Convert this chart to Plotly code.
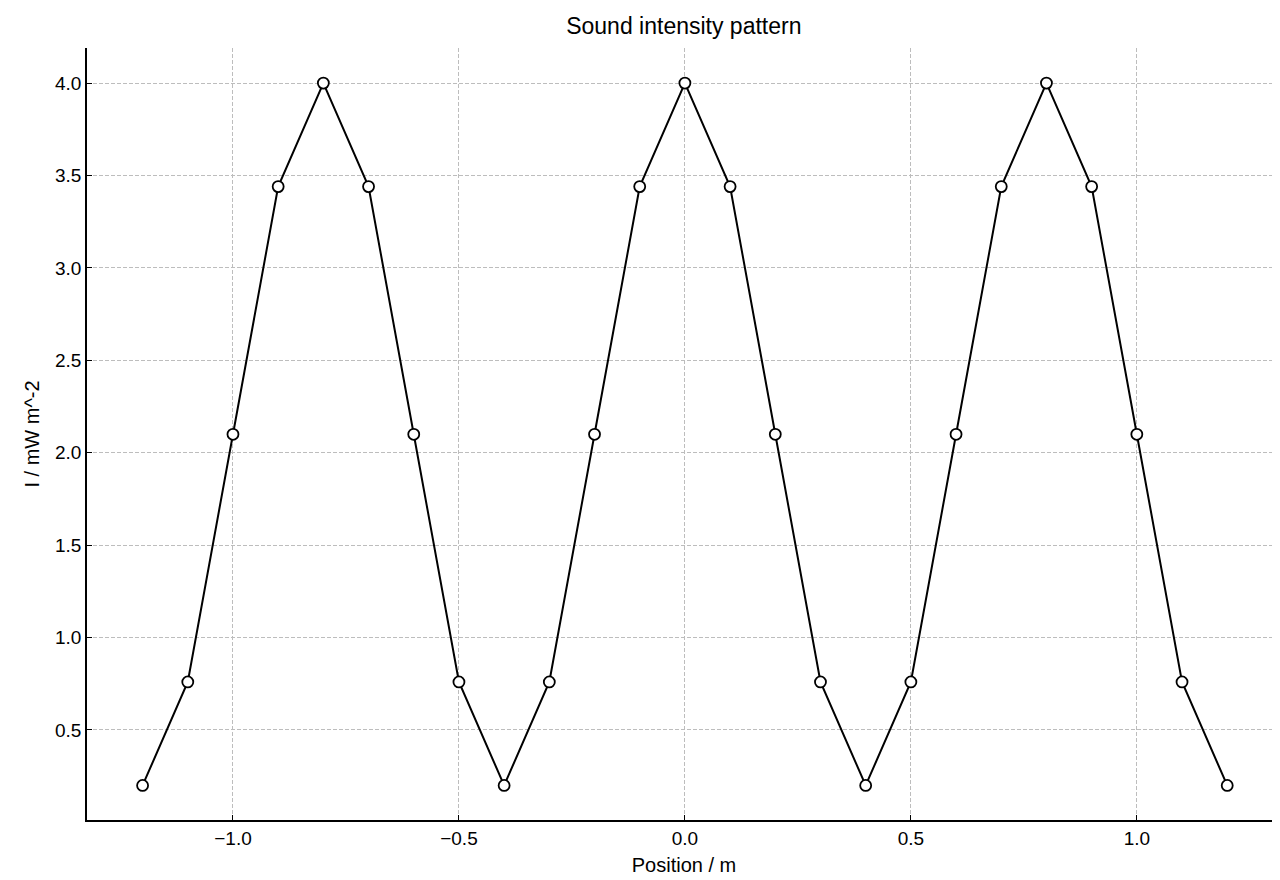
import plotly.graph_objects as go

x = [round(-1.2 + 0.1 * i, 1) for i in range(25)]
y = [0.2, 0.76, 2.1, 3.44, 4.0, 3.44, 2.1, 0.76,
     0.2, 0.76, 2.1, 3.44, 4.0, 3.44, 2.1, 0.76,
     0.2, 0.76, 2.1, 3.44, 4.0, 3.44, 2.1, 0.76, 0.2]

fig = go.Figure(go.Scatter(
    x=x, y=y, mode="lines+markers",
    line=dict(color="black", width=2),
    marker=dict(symbol="circle", size=11, color="white", line=dict(color="black", width=1.8)),
))

axis_common = dict(
    showline=True, linecolor="black", linewidth=1.5, mirror=False,
    ticks="inside", ticklen=5, tickcolor="black", automargin=False,
    showgrid=True, gridcolor="#bdbdbd", griddash="4px,2px", gridwidth=1,
    zeroline=False, tickfont=dict(size=19, color="black"),
)
fig.update_layout(
    width=1280, height=880,
    margin=dict(l=79, r=7, t=40, b=68),
    paper_bgcolor="white", plot_bgcolor="white",
    font=dict(family="Liberation Sans, Arial, sans-serif", color="black"),
    title=dict(text="Sound intensity pattern", x=0.528, xanchor="center", y=0.98, yanchor="middle",
               font=dict(size=23)),
    showlegend=False,
    xaxis=dict(range=[-1.323, 1.319], tickvals=[-1.0, -0.5, 0.0, 0.5, 1.0],
               ticktext=["\u22121.0", "\u22120.5", "0.0", "0.5", "1.0"],
               title=dict(text="Position / m", font=dict(size=20), standoff=10), **axis_common),
    yaxis=dict(range=[0.013, 4.19], tickvals=[0.5, 1.0, 1.5, 2.0, 2.5, 3.0, 3.5, 4.0],
               tickformat=".1f",
               title=dict(text="I / mW m^-2", font=dict(size=20), standoff=10), **axis_common),
)
fig.write_html("out.html")
